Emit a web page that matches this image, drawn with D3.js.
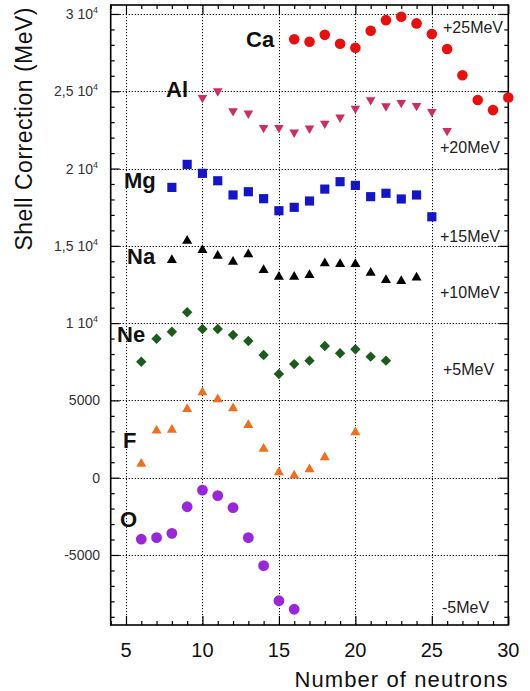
<!DOCTYPE html>
<html><head><meta charset="utf-8">
<script src="https://cdn.jsdelivr.net/npm/d3@7/dist/d3.min.js"></script>
<style>
body{margin:0;background:#fff}
text{font-family:"Liberation Sans",Arial,Helvetica,sans-serif}
</style>
</head><body>
<svg id="chart" width="530" height="691"></svg>
<script>
// ---- data ----
const xTicks = [5, 10, 15, 20, 25, 30];
const yTicks = [-5000, 0, 5000, 10000, 15000, 20000, 25000, 30000];
const yTickMain = ["-5000", "0", "5000", "1 10", "1,5 10", "2 10", "2,5 10", "3 10"];
const yTickSup  = ["", "", "", "4", "4", "4", "4", "4"];

const caN = [16,17,18,19,20,21,22,23,24,25,26,27,28,29,30];
const caV = [28360,28200,28650,28070,27810,28910,29600,29820,29390,28700,27730,26030,24430,23780,24600];
const alN = [10,11,12,13,14,15,16,17,18,19,20,21,22,23,24,25,26];
const alV = [24580,25010,23720,23570,22640,22640,22340,22600,22920,23310,23890,24430,24040,24260,24060,23670,22440];
const mgN = [8,9,10,11,12,13,14,15,16,17,18,19,20,21,22,23,24,25];
const mgV = [18780,20270,19690,19210,18290,18500,18050,17270,17490,17900,18670,19150,18910,18180,18400,18030,18290,16880];
const naN = [8,9,10,11,12,13,14,15,16,17,18,19,20,21,22,23,24];
const naV = [14080,15330,14730,14360,13970,14450,13430,13000,13000,13110,13870,13820,13820,13260,12790,12720,12940];
const neN = [6,7,8,9,10,11,12,13,14,15,16,17,18,19,20,21,22];
const neV = [7500,8990,9440,10700,9620,9620,9230,8840,7940,6710,7350,7570,8520,8050,8310,7830,7570];
const fN  = [6,7,8,9,10,11,12,13,14,15,16,17,18,20];
const fV  = [890,3040,3090,4440,5520,5070,4490,3410,1870,350,130,540,1320,2940];
const oN  = [6,7,8,9,10,11,12,13,14,15,16];
const oV  = [-3980,-3880,-3600,-1880,-800,-1160,-1940,-3880,-5690,-7960,-8510];

const elemNames = ["Ca","Al","Mg","Na","Ne","F","O"];
const shiftLabels = ["+25MeV","+20MeV","+15MeV","+10MeV","+5MeV","-5MeV"];

// ---- layout ----
const L = 110.7, R = 508.3, T = 5, B = 625;
const svg = d3.select("#chart");
const x = d3.scaleLinear().domain([4, 30]).range([L, R]);
const y = d3.scaleLinear().domain([-9530, 30580]).range([B, T]);

// grid
const grid = svg.append("g").attr("stroke", "#000").attr("stroke-width", 1).attr("stroke-dasharray", "1.2,1.8");
grid.selectAll(".gx").data(xTicks.filter(d => d < 30)).join("line")
  .attr("x1", d => Math.round(x(d)) + 0.5).attr("x2", d => Math.round(x(d)) + 0.5)
  .attr("y1", T).attr("y2", B);
grid.selectAll(".gy").data(yTicks).join("line")
  .attr("y1", d => Math.round(y(d)) + 0.5).attr("y2", d => Math.round(y(d)) + 0.5)
  .attr("x1", L).attr("x2", R);

// ticks (inward) on all four sides
const yMinor = d3.range(-9000, 30001, 1000).filter(v => v % 5000 !== 0);
const xMinor = d3.range(4, 31, 1).filter(v => v % 5 !== 0);
function axisG(axis, tx, ty) {
  const g = svg.append("g").attr("transform", `translate(${tx},${ty})`).call(axis);
  g.select(".domain").remove();
  g.selectAll("line").attr("stroke", "#000").attr("stroke-width", 1.2);
  g.selectAll("text").remove();
}
axisG(d3.axisRight(y).tickValues(yTicks).tickSize(9).tickFormat(""), L, 0);
axisG(d3.axisRight(y).tickValues(yMinor).tickSize(4).tickFormat(""), L, 0);
axisG(d3.axisLeft(y).tickValues(yTicks).tickSize(9).tickFormat(""), R, 0);
axisG(d3.axisLeft(y).tickValues(yMinor).tickSize(4).tickFormat(""), R, 0);
axisG(d3.axisTop(x).tickValues(xTicks).tickSize(9).tickFormat(""), 0, B);
axisG(d3.axisTop(x).tickValues(xMinor).tickSize(4).tickFormat(""), 0, B);
axisG(d3.axisBottom(x).tickValues(xTicks).tickSize(9).tickFormat(""), 0, T);
axisG(d3.axisBottom(x).tickValues(xMinor).tickSize(4).tickFormat(""), 0, T);

// frame
svg.append("rect").attr("x", L).attr("y", T).attr("width", R - L).attr("height", B - T)
  .attr("fill", "none").attr("stroke", "#000").attr("stroke-width", 1.6);

// y tick labels
const yl = svg.append("g").attr("fill", "#333").attr("font-size", 14).attr("text-anchor", "end");
yTicks.forEach((v, i) => {
  const t = yl.append("text").attr("x", yTickSup[i] ? 98 : 100).attr("y", y(v) + 5);
  t.append("tspan").text(yTickMain[i]);
  if (yTickSup[i]) t.append("tspan").attr("font-size", 9).attr("dy", -6).text(yTickSup[i]);
});

// x tick labels
svg.append("g").attr("fill", "#111").attr("font-size", 20).attr("text-anchor", "middle")
  .selectAll("text").data(xTicks).join("text")
  .attr("x", d => x(d)).attr("y", 657).text(d => d);

// axis titles
svg.append("text").attr("x", 401).attr("y", 687).attr("text-anchor", "middle")
  .attr("font-size", 22).attr("fill", "#111").attr("textLength", 213).text("Number of neutrons");
svg.append("text").attr("transform", "translate(32,129) rotate(-90)").attr("text-anchor", "middle")
  .attr("font-size", 23).attr("fill", "#111").attr("textLength", 243).text("Shell Correction (MeV)");

// series
const series = [
  {n: caN, v: caV, type: d3.symbolCircle, size: 88, rot: 0, color: "#e8100f"},
  {n: alN, v: alV, type: d3.symbolTriangle, size: 40, rot: 180, color: "#cc2f5e"},
  {n: mgN, v: mgV, type: d3.symbolSquare, size: 84, rot: 0, color: "#1414c8"},
  {n: naN, v: naV, type: d3.symbolTriangle, size: 44, rot: 0, color: "#000000"},
  {n: neN, v: neV, type: d3.symbolSquare, size: 54, rot: 45, color: "#1d5a1d"},
  {n: fN,  v: fV,  type: d3.symbolTriangle, size: 44, rot: 0, color: "#ee6f1e"},
  {n: oN,  v: oV,  type: d3.symbolCircle, size: 92, rot: 0, color: "#9a26dc"}
];
series.forEach(s => {
  const path = d3.symbol().type(s.type).size(s.size)();
  svg.append("g").selectAll("path").data(s.n.map((n, i) => [n, s.v[i]])).join("path")
    .attr("d", path).attr("fill", s.color)
    .attr("transform", d => `translate(${x(d[0])},${y(d[1])}) rotate(${s.rot})`);
});

// element labels
const elemPos = [[246,47],[166,97],[124,188],[127,264],[117,342],[123,448],[120,527]];
svg.append("g").attr("font-size", 22).attr("font-weight", "bold").attr("fill", "#111")
  .selectAll("text").data(elemNames).join("text")
  .attr("x", (d, i) => elemPos[i][0]).attr("y", (d, i) => elemPos[i][1]).text(d => d);

// shift labels
const shiftPos = [[443,33],[440,153],[440,242],[440,298],[443,375],[442,613]];
svg.append("g").attr("font-size", 16).attr("fill", "#222")
  .selectAll("text").data(shiftLabels).join("text")
  .attr("x", (d, i) => shiftPos[i][0]).attr("y", (d, i) => shiftPos[i][1]).text(d => d);
</script>
</body></html>
